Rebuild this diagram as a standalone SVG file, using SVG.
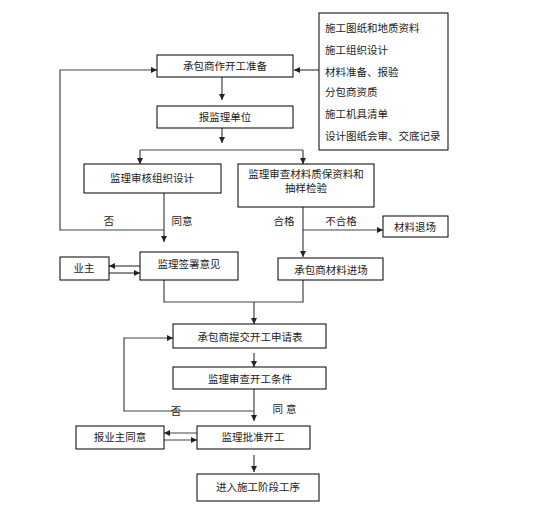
<svg xmlns="http://www.w3.org/2000/svg" width="542" height="506" viewBox="0 0 542 506">
<defs>
<marker id="ah" markerUnits="userSpaceOnUse" markerWidth="6" markerHeight="6" refX="6" refY="3" orient="auto">
<path d="M0,0 L6,3 L0,6 z" fill="#222"/>
</marker>
</defs>
<style>
.box{fill:#fff;stroke:#000;stroke-width:1}
.t{font-family:"Liberation Sans","Noto Sans CJK SC",sans-serif;font-size:10.5px;fill:#222;text-anchor:middle;dominant-baseline:central}
.tl{text-anchor:start}
.c{fill:none;stroke:#444;stroke-width:1.2}
.a{marker-end:url(#ah)}
</style>
<rect width="542" height="506" fill="#fff"/>
<g id="connectors">
<path class="c a" d="M319,70 H294"/>
<path class="c a" d="M222,77 V100"/>
<path class="c a" d="M222,128 V143"/>
<path class="c" d="M140,150 H303"/>
<path class="c a" d="M140,150 V164"/>
<path class="c a" d="M303,150 V164"/>
<path class="c a" d="M164,193 V242"/>
<path class="c a" d="M164,230 H60 V70 H157"/>
<path class="c a" d="M303,207 V257"/>
<path class="c a" d="M303,230 H383"/>
<path class="c a" d="M140,266 H109"/>
<path class="c a" d="M109,273 H140"/>
<path class="c" d="M164,280 V302 H303 V280"/>
<path class="c a" d="M254,302 V324"/>
<path class="c a" d="M254,353 V367"/>
<path class="c a" d="M254,389 V421"/>
<path class="c a" d="M254,411 H124 V338 H173"/>
<path class="c a" d="M197,433 H164"/>
<path class="c a" d="M164,440 H197"/>
<path class="c a" d="M254,455 V472"/>
</g>
<g id="info">
<rect class="box" x="319" y="13" width="129" height="137"/>
<text class="t tl" x="325" y="28">施工图纸和地质资料</text>
<text class="t tl" x="325" y="50">施工组织设计</text>
<text class="t tl" x="325" y="72">材料准备、报验</text>
<text class="t tl" x="325" y="92">分包商资质</text>
<text class="t tl" x="325" y="114">施工机具清单</text>
<text class="t tl" x="325" y="136">设计图纸会审、交底记录</text>
</g>
<g id="n1"><rect class="box" x="157" y="55" width="136" height="22"/><text class="t" x="225" y="66">承包商作开工准备</text></g>
<g id="n2"><rect class="box" x="157" y="106" width="136" height="22"/><text class="t" x="225" y="117">报监理单位</text></g>
<g id="n3"><rect class="box" x="84" y="164" width="137" height="29"/><text class="t" x="152" y="178">监理审核组织设计</text></g>
<g id="n4"><rect class="box" x="238" y="164" width="136" height="43"/><text class="t" x="306" y="174">监理审查材料质保资料和</text><text class="t" x="306" y="188">抽样检验</text></g>
<g id="n5"><rect class="box" x="383" y="216" width="65" height="21"/><text class="t" x="415" y="227">材料退场</text></g>
<g id="n6"><rect class="box" x="140" y="252" width="98" height="28"/><text class="t" x="189" y="264">监理签署意见</text></g>
<g id="n7"><rect class="box" x="60" y="257" width="49" height="23"/><text class="t" x="84" y="268">业主</text></g>
<g id="n8"><rect class="box" x="278" y="258" width="105" height="22"/><text class="t" x="331" y="270">承包商材料进场</text></g>
<g id="n9"><rect class="box" x="173" y="324" width="153" height="24"/><text class="t" x="250" y="337">承包商提交开工申请表</text></g>
<g id="n10"><rect class="box" x="173" y="367" width="153" height="22"/><text class="t" x="250" y="379">监理审查开工条件</text></g>
<g id="n11"><rect class="box" x="197" y="426" width="113" height="23"/><text class="t" x="253" y="437">监理批准开工</text></g>
<g id="n12"><rect class="box" x="76" y="426" width="88" height="23"/><text class="t" x="120" y="437">报业主同意</text></g>
<g id="n13"><rect class="box" x="197" y="474" width="122" height="27"/><text class="t" x="258" y="487">进入施工阶段工序</text></g>
<g id="labels">
<text class="t" x="109" y="221">否</text>
<text class="t" x="182" y="221">同意</text>
<text class="t" x="284" y="221">合格</text>
<text class="t" x="341" y="221">不合格</text>
<text class="t" x="176" y="411">否</text>
<text class="t" x="286" y="409" letter-spacing="3">同意</text>
</g>
</svg>
